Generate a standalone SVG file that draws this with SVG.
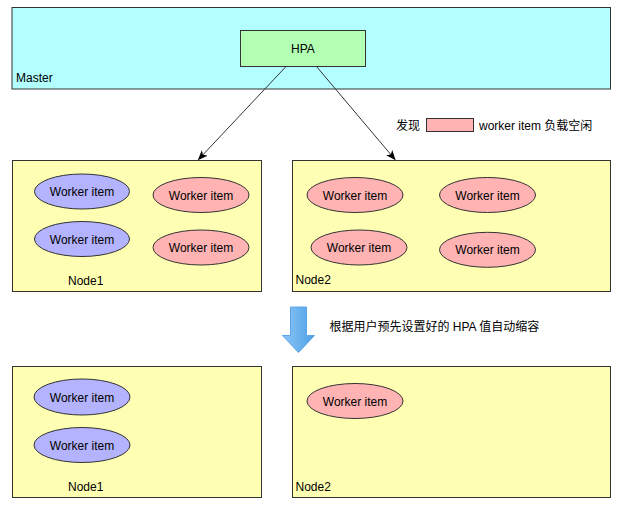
<svg xmlns="http://www.w3.org/2000/svg" width="619" height="505" viewBox="0 0 619 505">
<defs>
<marker id="ah" markerWidth="10" markerHeight="8" refX="9" refY="4" orient="auto" markerUnits="userSpaceOnUse">
<path d="M0,0 L10,4 L0,8 L2.5,4 Z" fill="#000"/>
</marker>
<linearGradient id="bg" x1="0" y1="0" x2="1" y2="0">
<stop offset="0" stop-color="#8cc6f7"/>
<stop offset="1" stop-color="#4f9fe6"/>
</linearGradient>
</defs>
<style>
text{font-family:"Liberation Sans",Arial,"Noto Sans CJK SC",sans-serif;font-size:12px;fill:#000}
.c{text-anchor:middle}
.node{fill:#ffffb3;stroke:#333;stroke-width:1}
.blue{fill:#b3b3ff;stroke:#333;stroke-width:1}
.pink{fill:#ffb3b3;stroke:#333;stroke-width:1}
</style>
<rect width="619" height="505" fill="#fff"/>
<g id="master">
<rect x="12" y="7.5" width="598.5" height="81.5" fill="#b3ffff" stroke="#333"/>
<text x="16" y="81.5">Master</text>
</g>
<g id="hpa">
<rect x="240.5" y="30.5" width="125" height="36" fill="#b3ffb3" stroke="#333"/>
<text class="c" x="303" y="53">HPA</text>
</g>
<g id="legend">
<text x="396" y="130">发现</text>
<rect x="426.5" y="118.5" width="47" height="13" class="pink"/>
<text x="479" y="130">worker item 负载空闲</text>
</g>
<g id="node1-top">
<rect x="12.5" y="160.5" width="249" height="131" class="node"/>
<text x="68" y="285">Node1</text>
<ellipse cx="82" cy="191.5" rx="47.5" ry="17.5" class="blue"/><text class="c" x="82" y="196">Worker item</text>
<ellipse cx="82" cy="239" rx="47.5" ry="17.5" class="blue"/><text class="c" x="82" y="243.5">Worker item</text>
<ellipse cx="201" cy="195" rx="48" ry="17.5" class="pink"/><text class="c" x="201" y="199.5">Worker item</text>
<ellipse cx="201" cy="247.5" rx="48" ry="17.5" class="pink"/><text class="c" x="201" y="252">Worker item</text>
</g>
<g id="node2-top">
<rect x="292.5" y="160.5" width="318" height="131" class="node"/>
<text x="295.5" y="284">Node2</text>
<ellipse cx="355" cy="195" rx="48" ry="17.5" class="pink"/><text class="c" x="355" y="199.5">Worker item</text>
<ellipse cx="487.5" cy="195" rx="48" ry="17.5" class="pink"/><text class="c" x="487.5" y="199.5">Worker item</text>
<ellipse cx="359" cy="247.5" rx="48" ry="17.5" class="pink"/><text class="c" x="359" y="252">Worker item</text>
<ellipse cx="487.5" cy="249.8" rx="48" ry="17.5" class="pink"/><text class="c" x="487.5" y="254.3">Worker item</text>
</g>
<g id="connectors">
<line x1="286" y1="66.5" x2="198.5" y2="159.5" stroke="#333" stroke-width="1" marker-end="url(#ah)"/>
<line x1="316.5" y1="66.5" x2="395" y2="159.5" stroke="#333" stroke-width="1" marker-end="url(#ah)"/>
</g>
<g id="scale-arrow">
<path d="M290.5,307 L306.5,307 L306.5,335.5 L314.5,335.5 L298.5,352.5 L282.5,335.5 L290.5,335.5 Z" fill="url(#bg)" stroke="#5aa5ea" stroke-width="1"/>
<text x="329.5" y="330.5">根据用户预先设置好的 HPA 值自动缩容</text>
</g>
<g id="node1-bottom">
<rect x="12.5" y="366.5" width="249" height="131" class="node"/>
<text x="68" y="491">Node1</text>
<ellipse cx="82" cy="397" rx="48" ry="18" class="blue"/><text class="c" x="82" y="401.5">Worker item</text>
<ellipse cx="82" cy="445" rx="48" ry="17.5" class="blue"/><text class="c" x="82" y="449.5">Worker item</text>
</g>
<g id="node2-bottom">
<rect x="292.5" y="366.5" width="318" height="131" class="node"/>
<text x="295.5" y="491">Node2</text>
<ellipse cx="355" cy="401" rx="48" ry="17.5" class="pink"/><text class="c" x="355" y="405.5">Worker item</text>
</g>
</svg>
